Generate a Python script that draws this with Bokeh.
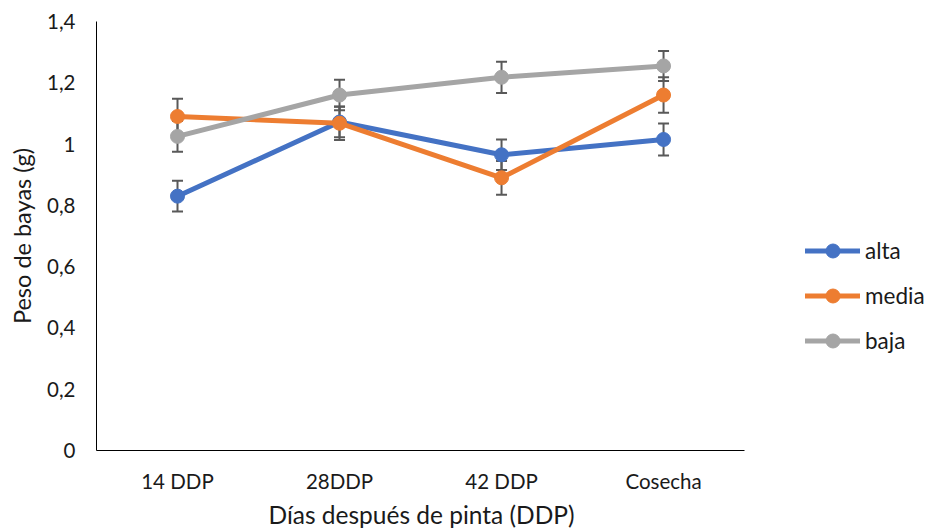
from bokeh.plotting import figure
from bokeh.models import (ColumnDataSource, Range1d, FixedTicker, Title,
                          Whisker, TeeHead, Legend, LegendItem)
from bokeh.embed import file_html
from bokeh.resources import INLINE

categories = ["14 DDP", "28DDP", "42 DDP", "Cosecha"]
series_names = ["alta", "media", "baja"]
alta = [0.83, 1.072, 0.965, 1.015]
alta_err = [0.05, 0.05, 0.05, 0.052]
media = [1.09, 1.068, 0.89, 1.16]
media_err = [0.058, 0.055, 0.055, 0.058]
baja = [1.025, 1.16, 1.218, 1.255]
baja_err = [0.05, 0.05, 0.051, 0.049]
colors = ["#4472C4", "#ED7D31", "#A5A5A5"]
y_ticks = [0, 0.2, 0.4, 0.6, 0.8, 1.0, 1.2, 1.4]
y_tick_labels = ["0", "0,2", "0,4", "0,6", "0,8", "1", "1,2", "1,4"]
x_title = "Días después de pinta (DDP)"
y_title = "Peso de bayas (g)"

FONT = "Lato"
TEXT = "#1a1a1a"

# category slots: centre of slot i is i + 0.5
xpos = [i + 0.5 for i in range(len(categories))]
n = len(categories)

# frame reaches to the right edge so the legend can sit inside it
p = figure(width=926, height=531, x_range=Range1d(0, 5.123),
           y_range=Range1d(0, 1.4), output_backend="svg", toolbar_location=None,
           min_border_left=96, min_border_right=0, min_border_top=21,
           min_border_bottom=81)
p.outline_line_color = None
p.grid.visible = False
p.background_fill_color = "white"

for ax in (p.xaxis[0], p.yaxis[0]):
    ax.axis_line_color = "#000000"
    ax.axis_line_width = 1
    ax.major_tick_line_color = None
    ax.minor_tick_line_color = None
    ax.major_tick_out = 0
    ax.major_tick_in = 0
    ax.minor_tick_out = 0
    ax.minor_tick_in = 0
    ax.major_label_text_font = FONT
    ax.major_label_text_font_size = "20.5px"
    ax.major_label_text_color = TEXT
    ax.axis_label_text_font = FONT
    ax.axis_label_text_font_style = "normal"
    ax.axis_label_text_color = TEXT

p.xaxis.bounds = (0, n)
p.xaxis.ticker = FixedTicker(ticks=xpos)
p.xaxis.major_label_overrides = {x: c for x, c in zip(xpos, categories)}
p.xaxis.major_label_standoff = 18

# x-axis title centred under the category slots (not the whole frame)
p.add_layout(Title(text=x_title, align="left", offset=172, standoff=4,
                   text_font=FONT, text_font_size="24.5px",
                   text_font_style="normal", text_color=TEXT), "below")

p.yaxis.axis_label = y_title
p.yaxis.axis_label_text_font_size = "23.5px"
p.yaxis.ticker = FixedTicker(ticks=y_ticks)
p.yaxis.major_label_overrides = {t: l for t, l in zip(y_ticks, y_tick_labels)}
p.yaxis.major_label_standoff = 21
p.yaxis.axis_label_standoff = 8

items = []
for name, vals, errs, col in zip(series_names, [alta, media, baja],
                                 [alta_err, media_err, baja_err], colors):
    src = ColumnDataSource(dict(x=xpos, y=vals,
                                lo=[v - e for v, e in zip(vals, errs)],
                                hi=[v + e for v, e in zip(vals, errs)]))
    w = Whisker(source=src, base="x", upper="hi", lower="lo",
                line_color="#595959", line_width=2,
                upper_head=TeeHead(size=11, line_color="#595959", line_width=2),
                lower_head=TeeHead(size=11, line_color="#595959", line_width=2))
    p.add_layout(w)
    ln = p.line("x", "y", source=src, line_color=col, line_width=5, line_cap="round")
    sc = p.scatter("x", "y", source=src, size=14, fill_color=col, line_color=col)
    items.append(LegendItem(label=name, renderers=[ln, sc]))

legend = Legend(items=items, location=(709, 92), orientation="vertical",
                glyph_width=55, glyph_height=35, label_height=35, spacing=10,
                padding=0, margin=0, label_standoff=5,
                label_text_font=FONT, label_text_font_size="22.5px",
                label_text_color=TEXT,
                border_line_color=None, background_fill_alpha=0)
p.add_layout(legend, "center")

open("out.html", "w").write(file_html(p, INLINE))
